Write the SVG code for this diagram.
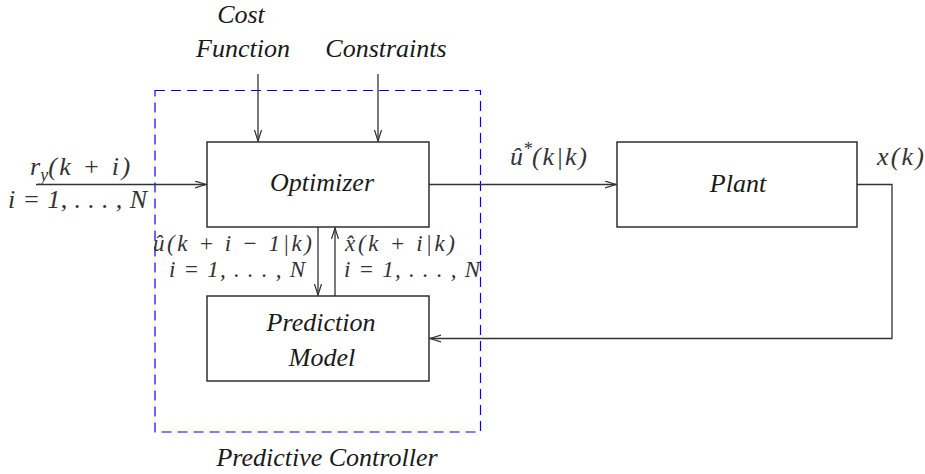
<svg xmlns="http://www.w3.org/2000/svg" width="925" height="474" viewBox="0 0 925 474">
<style>
.box{fill:#fff;stroke:#222;stroke-width:1.4}
.ln{fill:none;stroke:#333;stroke-width:1.3}
</style>
<defs>
<marker id="ah" markerUnits="userSpaceOnUse" markerWidth="14" markerHeight="10" refX="11" refY="4" orient="auto" viewBox="0 0 14 10">
<path d="M0,0.5 L11,4 L0,7.5" fill="none" stroke="#333" stroke-width="1.2"/>
</marker>
</defs>
<rect x="155" y="90.5" width="325.5" height="341.5" fill="none" stroke="#0000ff" stroke-width="1.2" stroke-dasharray="10,6"/>
<g id="connectors">
<path class="ln" d="M36,184.5 H206" marker-end="url(#ah)"/>
<path class="ln" d="M258,74 V141" marker-end="url(#ah)"/>
<path class="ln" d="M378,74 V141" marker-end="url(#ah)"/>
<path class="ln" d="M429,184.5 H616" marker-end="url(#ah)"/>
<path class="ln" d="M318,227 V295" marker-end="url(#ah)"/>
<path class="ln" d="M335,296 V228" marker-end="url(#ah)"/>
<path class="ln" d="M857,184.5 H892 V338.5 H430" marker-end="url(#ah)"/>
</g>
<g font-family="Liberation Serif, Times New Roman, serif" font-size="26" font-style="italic" fill="#1a1a1a">
<g id="optimizer">
<rect class="box" x="207" y="142" width="222" height="85"/>
<text x="322" y="191" text-anchor="middle">Optimizer</text>
</g>
<g id="prediction-model">
<rect class="box" x="207" y="296" width="222" height="85"/>
<text x="321" y="331" text-anchor="middle">Prediction</text>
<text x="322" y="366" text-anchor="middle">Model</text>
</g>
<g id="plant">
<rect class="box" x="617" y="142" width="240" height="85"/>
<text x="738" y="192" text-anchor="middle">Plant</text>
</g>
<g id="labels">
<text x="241" y="23" text-anchor="middle">Cost</text>
<text x="243" y="57" text-anchor="middle">Function</text>
<text x="386" y="57" text-anchor="middle">Constraints</text>
<text x="327" y="466" text-anchor="middle">Predictive Controller</text>
</g>
</g>
<g id="math" font-family="Liberation Serif, Times New Roman, serif" font-size="26" font-style="italic" fill="#333">
<text x="30" y="175">r<tspan font-size="18" dy="6">y</tspan><tspan dy="-6" textLength="82" lengthAdjust="spacing">(k + i)</tspan></text>
<text x="8" y="208" textLength="139" lengthAdjust="spacing">i = 1, . . . , N</text>
<text x="153" y="251" font-size="23" textLength="159" lengthAdjust="spacing">û(k + i − 1|k)</text>
<text x="169" y="277" font-size="23" textLength="136" lengthAdjust="spacing">i = 1, . . . , N</text>
<text x="345" y="251" font-size="23" textLength="110" lengthAdjust="spacing">x̂(k + i|k)</text>
<text x="344" y="277" font-size="23" textLength="136" lengthAdjust="spacing">i = 1, . . . , N</text>
<text x="510" y="165">û<tspan font-size="18" dy="-10">*</tspan><tspan dy="10" textLength="55" lengthAdjust="spacing">(k|k)</tspan></text>
<text x="877" y="165" textLength="47" lengthAdjust="spacing">x(k)</text>
</g>
</svg>
